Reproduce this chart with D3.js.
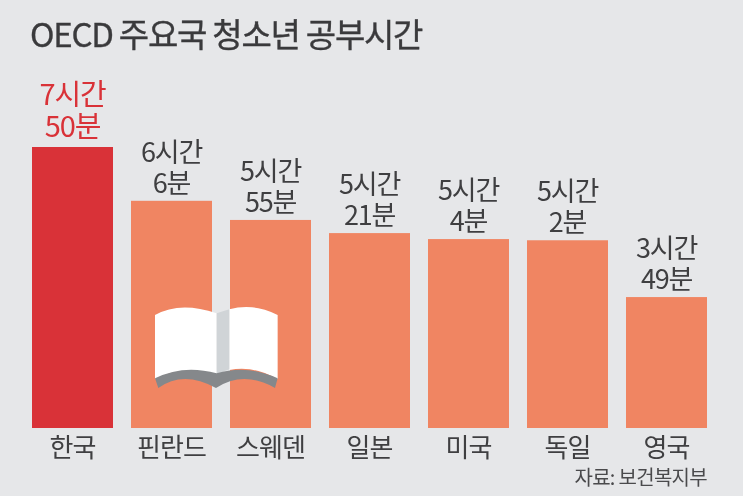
<!DOCTYPE html>
<html><head><meta charset="utf-8">
<script src="https://cdnjs.cloudflare.com/ajax/libs/d3/7.8.5/d3.min.js"></script>
<style>html,body{margin:0;padding:0;background:#e6e7e9;overflow:hidden}svg{display:block;filter:blur(0.5px)}text{font-family:"Noto Sans CJK KR","Noto Sans",sans-serif}</style>
</head><body><svg id="c" width="743" height="496"></svg>
<script>
const title = "OECD 주요국 청소년 공부시간";
const source = "자료: 보건복지부";
const categories = ["한국","핀란드","스웨덴","일본","미국","독일","영국"];
// Bar lengths as drawn in the picture, in minute-equivalents on the Korea bar's scale
const barValues = [470,380,348,326,316,314,219];
const hourLabels = ["7시간","6시간","5시간","5시간","5시간","5시간","3시간"];
const minuteLabels = ["50분","6분","55분","21분","4분","2분","49분"];
const colors = ["#d93238","#f08562"];
const svg = d3.select("#c");
const x = d3.scaleBand().domain(categories).range([32,707]).paddingInner(18/99).paddingOuter(0);
const y = d3.scaleLinear().domain([0,470]).range([428,147]);
svg.append("text").attr("x",30).attr("y",47).attr("font-size",33).attr("font-weight",400).attr("letter-spacing",-1.25).attr("fill","#3a3a3c").attr("stroke","#3a3a3c").attr("stroke-width",0.35).text(title);
const g = svg.selectAll("g.bar").data(categories).join("g").attr("class","bar");
g.append("rect").attr("x",d=>x(d)).attr("width",x.bandwidth())
 .attr("y",(d,i)=>y(barValues[i])).attr("height",(d,i)=>y(0)-y(barValues[i]))
 .attr("fill",(d,i)=>i===0?colors[0]:colors[1]);
const cx = d=>x(d)+x.bandwidth()/2;
g.append("text").attr("x",cx).attr("y",(d,i)=>y(barValues[i])-(i===0?42:39)).attr("text-anchor","middle")
 .attr("font-size",(d,i)=>i===0?29:27).attr("letter-spacing",-1.2).attr("fill",(d,i)=>i===0?colors[0]:"#3f3f41").text((d,i)=>hourLabels[i]);
g.append("text").attr("x",cx).attr("y",(d,i)=>y(barValues[i])-(i===0?10:8)).attr("text-anchor","middle")
 .attr("font-size",(d,i)=>i===0?29:27).attr("letter-spacing",-1.2).attr("fill",(d,i)=>i===0?colors[0]:"#3f3f41").text((d,i)=>minuteLabels[i]);
g.append("text").attr("x",cx).attr("y",457).attr("text-anchor","middle").attr("font-size",26).attr("letter-spacing",-1).attr("fill","#3f3f41").text(d=>d);
svg.append("text").attr("x",707).attr("y",485).attr("text-anchor","end").attr("font-size",20).attr("letter-spacing",-0.7).attr("fill","#4a4a4c").text(source);
// book icon (decoration)
const book = svg.append("g").attr("transform","translate(130,290) scale(0.3333)");
book.append("path").attr("fill","#ffffff").attr("d","M75,75 Q150,32 260,70 L260,255 Q150,225 75,268 Z");
book.append("path").attr("fill","#ffffff").attr("d","M298,58 Q370,38 443,75 L443,268 Q370,225 298,240 Z");
book.append("path").attr("fill","#d0d4d7").attr("d","M260,70 L298,58 L298,238 L260,252 Z");
book.append("path").attr("fill","#85888b").attr("d","M75,265 Q160,222 260,250 Q350,222 443,265 L435,294 Q340,240 258,294 Q160,240 85,294 Z");
</script></body></html>
